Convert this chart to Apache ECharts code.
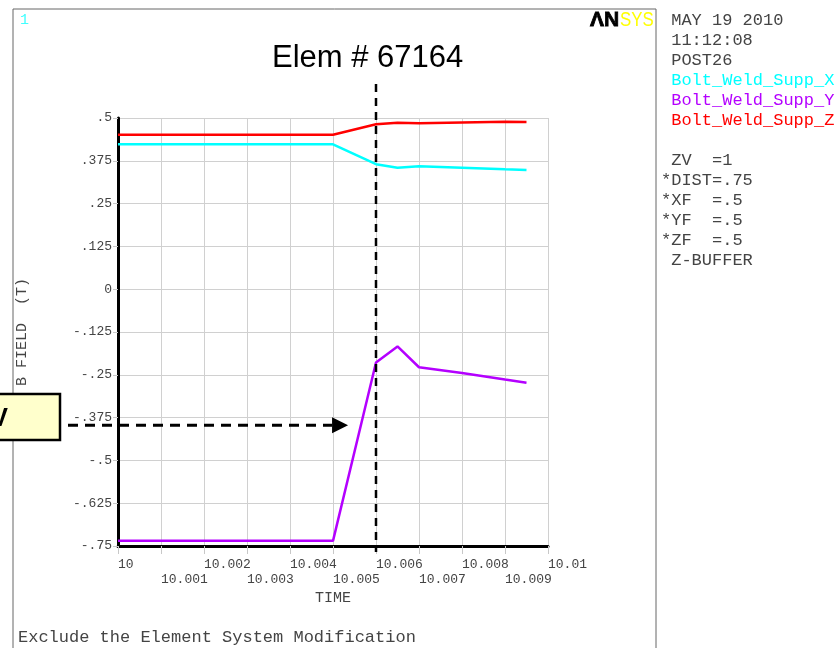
<!DOCTYPE html>
<html><head><meta charset="utf-8">
<script src="https://cdn.jsdelivr.net/npm/echarts@6/dist/echarts.min.js"></script>
<style>html,body{margin:0;padding:0;background:#fff}#c{width:837px;height:648px}</style>
</head><body><div id="c"></div>
<script>
// ---- data ----
const timeValues = [10, 10.005, 10.006, 10.0065, 10.007, 10.008, 10.009, 10.0095];
const boltX = [0.423, 0.423, 0.365, 0.355, 0.359, 0.355, 0.350, 0.348];
const boltY = [-0.735, -0.735, -0.214, -0.167, -0.228, -0.245, -0.264, -0.273];
const boltZ = [0.451, 0.451, 0.482, 0.486, 0.485, 0.487, 0.489, 0.488];
const seriesNames = ['Bolt_Weld_Supp_X', 'Bolt_Weld_Supp_Y', 'Bolt_Weld_Supp_Z'];
const xTickLabels = ['10','10.001','10.002','10.003','10.004','10.005','10.006','10.007','10.008','10.009','10.01'];
const yTickLabels = ['-.75','-.625','-.5','-.375','-.25','-.125','0','.125','.25','.375','.5'];
const infoLines = [' MAY 19 2010', ' 11:12:08', ' POST26'];
const settingLines = [' ZV  =1', '*DIST=.75', '*XF  =.5', '*YF  =.5', '*ZF  =.5', ' Z-BUFFER'];
const markerTime = 10.006;
const arrowLevel = -0.397;
const arrowTipTime = 10.00535;

const colors = ['#00ffff', '#b400ff', '#ff0000'];
const mono = 'Liberation Mono';
const pair = (xs, ys) => xs.map((x, i) => [x, ys[i]]);
const tickIndex = v => Math.round((v - 10) / 0.001);

const chart = echarts.init(document.getElementById('c'));
const baseX = {
  type: 'value', min: 10, max: 10.01, interval: 0.001, position: 'bottom'
};
const option = {
  animation: false,
  backgroundColor: '#fff',
  title: {
    text: 'Elem # 67164', left: 272, top: 43, padding: 0,
    textStyle: {fontFamily: 'Liberation Sans', fontSize: 31, fontWeight: 'normal', color: '#000'}
  },
  grid: {left: 118, right: 289, top: 118, bottom: 102, containLabel: false},
  xAxis: [
    Object.assign({}, baseX, {
      name: 'TIME', nameLocation: 'middle', nameGap: 45,
      nameTextStyle: {fontFamily: mono, fontSize: 15, color: '#444'},
      axisLine: {show: true, onZero: false, lineStyle: {color: '#000', width: 3}},
      axisTick: {show: true, length: 8, lineStyle: {color: '#c8c8c8'}},
      splitLine: {show: true, lineStyle: {color: '#d0d0d0', width: 1}},
      axisLabel: {
        show: true, showMinLabel: true, showMaxLabel: true, hideOverlap: false,
        align: 'left', margin: 12, fontFamily: mono, fontSize: 13, color: '#444',
        formatter: v => { const i = tickIndex(v); return i % 2 ? '' : xTickLabels[i]; }
      }
    }),
    Object.assign({}, baseX, {
      axisLine: {show: false}, axisTick: {show: false}, splitLine: {show: false},
      axisLabel: {
        show: true, showMinLabel: false, showMaxLabel: false, hideOverlap: false,
        align: 'left', margin: 27, fontFamily: mono, fontSize: 13, color: '#444',
        formatter: v => { const i = tickIndex(v); return i % 2 ? xTickLabels[i] : ''; }
      }
    })
  ],
  yAxis: {
    type: 'value', min: -0.75, max: 0.5, interval: 0.125,
    name: 'B FIELD  (T)', nameLocation: 'middle', nameGap: 88, nameRotate: 90,
    nameTextStyle: {fontFamily: mono, fontSize: 15, color: '#444'},
    axisLine: {show: true, onZero: false, lineStyle: {color: '#000', width: 3}},
    axisTick: {show: true, length: 5, lineStyle: {color: '#c8c8c8'}},
    splitLine: {show: true, lineStyle: {color: '#d0d0d0', width: 1}},
    axisLabel: {
      show: true, margin: 6, fontFamily: mono, fontSize: 13, color: '#444',
      formatter: v => yTickLabels[Math.round((v + 0.75) / 0.125)]
    }
  },
  series: [
    {name: seriesNames[0], type: 'line', data: pair(timeValues, boltX), showSymbol: false, lineStyle: {color: colors[0], width: 2.5}, itemStyle: {color: colors[0]}},
    {name: seriesNames[1], type: 'line', data: pair(timeValues, boltY), showSymbol: false, lineStyle: {color: colors[1], width: 2.5}, itemStyle: {color: colors[1]}},
    {name: seriesNames[2], type: 'line', data: pair(timeValues, boltZ), showSymbol: false, lineStyle: {color: colors[2], width: 2.5}, itemStyle: {color: colors[2]}}
  ]
};
chart.setOption(option);

const mx = chart.convertToPixel({xAxisIndex: 0}, markerTime);
const ay = chart.convertToPixel({yAxisIndex: 0}, arrowLevel);
const ax = chart.convertToPixel({xAxisIndex: 0}, arrowTipTime);

const g = [];
// frame
g.push({type: 'rect', shape: {x: 13, y: 9, width: 643, height: 660}, style: {fill: 'none', stroke: '#666', lineWidth: 1}, silent: true});
// window number
g.push({type: 'text', x: 20, y: 20, style: {text: '1', fill: '#40ffff', font: '15px "Liberation Mono"', textVerticalAlign: 'middle'}});
// logo
g.push({type: 'text', x: 590, y: 20, style: {text: '\u039BN', fill: '#000', font: '900 21px "Liberation Sans"', textVerticalAlign: 'middle', stroke: '#000', lineWidth: 0.8}});
g.push({type: 'text', x: 620, y: 20, scaleX: 0.8, style: {text: 'SYS', fill: '#ffff00', font: '21px "Liberation Sans"', textVerticalAlign: 'middle'}});
// right panel
let ly = 20;
infoLines.forEach(t => { g.push({type: 'text', x: 661, y: ly, style: {text: t, fill: '#444', font: '17px "Liberation Mono"', textVerticalAlign: 'middle'}}); ly += 20; });
seriesNames.forEach((t, i) => { g.push({type: 'text', x: 661, y: ly, style: {text: ' ' + t, fill: colors[i], font: '17px "Liberation Mono"', textVerticalAlign: 'middle'}}); ly += 20; });
ly += 20;
settingLines.forEach(t => { g.push({type: 'text', x: 661, y: ly, style: {text: t, fill: '#444', font: '17px "Liberation Mono"', textVerticalAlign: 'middle'}}); ly += 20; });
// bottom caption
g.push({type: 'text', x: 18, y: 637, style: {text: 'Exclude the Element System Modification', fill: '#444', font: '17px "Liberation Mono"', textVerticalAlign: 'middle'}});
// vertical dashed marker
g.push({type: 'line', shape: {x1: mx, y1: 84, x2: mx, y2: 552}, style: {stroke: '#000', lineWidth: 2.5, lineDash: [8, 6]}, z: 100});
// yellow box
g.push({type: 'rect', shape: {x: -100, y: 394, width: 160, height: 46}, style: {fill: '#ffffcc', stroke: '#000', lineWidth: 2.5}, z: 100});
g.push({type: 'text', x: 8, y: 419, style: {text: 'V', fill: '#000', font: 'bold 25px "Liberation Sans"', textAlign: 'right', textVerticalAlign: 'middle'}, z: 101});
// dashed arrow
g.push({type: 'line', shape: {x1: 68, y1: ay, x2: ax - 16, y2: ay}, style: {stroke: '#000', lineWidth: 3, lineDash: [10, 7]}, z: 100});
g.push({type: 'polygon', shape: {points: [[ax - 16, ay - 8], [ax, ay], [ax - 16, ay + 8]]}, style: {fill: '#000'}, z: 100});

chart.setOption({graphic: {elements: g}});
</script>
</body></html>
